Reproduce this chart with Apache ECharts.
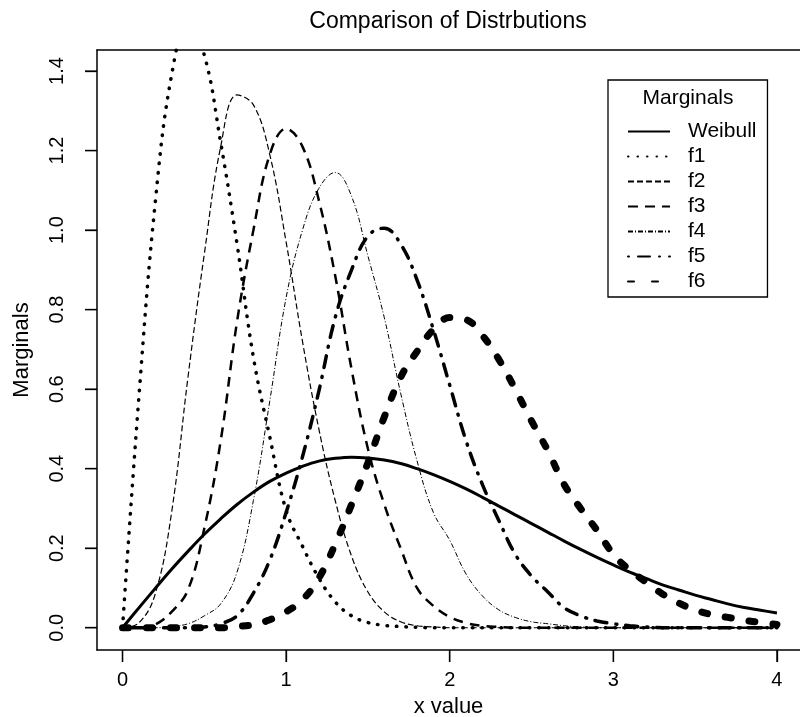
<!DOCTYPE html>
<html>
<head>
<meta charset="utf-8">
<script src="https://cdn.jsdelivr.net/npm/echarts@6/dist/echarts.min.js"></script>
<style>
    html, body { margin: 0; padding: 0; background: #fff; }
    #chart { width: 800px; height: 717px; }
</style>
</head>
<body>
<div id="chart"></div>
<script>
    // x grid
    var xs = [0, 0.1, 0.2, 0.3, 0.4, 0.5, 0.6, 0.7, 0.8, 0.9,
        1.0, 1.1, 1.2, 1.3, 1.4, 1.5, 1.6, 1.7, 1.8, 1.9,
        2.0, 2.1, 2.2, 2.3, 2.4, 2.5, 2.6, 2.7, 2.8, 2.9,
        3.0, 3.1, 3.2, 3.3, 3.4, 3.5, 3.6, 3.7, 3.8, 3.9, 4.0]

    var weibull = [0, 0.050, 0.099, 0.147, 0.192, 0.235, 0.274, 0.310, 0.341, 0.368,
        0.389, 0.406, 0.419, 0.426, 0.429, 0.427, 0.422, 0.413, 0.400, 0.385,
        0.368, 0.349, 0.328, 0.306, 0.284, 0.262, 0.240, 0.218, 0.197, 0.177,
        0.158, 0.140, 0.124, 0.108, 0.095, 0.082, 0.071, 0.060, 0.051, 0.044, 0.037]
    var f1 = [0, 0.58, 1.07, 1.39, 1.52, 1.44, 1.22, 0.965, 0.68, 0.48,
        0.295, 0.205, 0.125, 0.065, 0.03, 0.013, 0.006, 0.003, 0.001, 0,
        0, 0, 0, 0, 0, 0, 0, 0, 0, 0,
        0, 0, 0, 0, 0, 0, 0, 0, 0, 0, 0]
    var f2 = [0, 0.012, 0.085, 0.29, 0.63, 0.94, 1.21, 1.34, 1.315, 1.19,
        0.97, 0.72, 0.50, 0.32, 0.18, 0.09, 0.04, 0.015, 0.005, 0.002,
        0, 0, 0, 0, 0, 0, 0, 0, 0, 0,
        0, 0, 0, 0, 0, 0, 0, 0, 0, 0, 0]
    var f3 = [0, 0, 0.008, 0.04, 0.095, 0.25, 0.47, 0.77, 1.0, 1.19,
        1.255, 1.21, 1.075, 0.885, 0.65, 0.45, 0.31, 0.20, 0.10, 0.055,
        0.027, 0.012, 0.005, 0.002, 0, 0, 0, 0, 0, 0,
        0, 0, 0, 0, 0, 0, 0, 0, 0, 0, 0]
    var f4 = [0, 0, 0, 0.003, 0.01, 0.03, 0.06, 0.14, 0.32, 0.57,
        0.83, 1.0, 1.105, 1.145, 1.085, 0.935, 0.78, 0.59, 0.42, 0.29,
        0.22, 0.135, 0.08, 0.045, 0.026, 0.015, 0.01, 0.005, 0.002, 0,
        0, 0, 0, 0, 0, 0, 0, 0, 0, 0, 0]
    var f5 = [0, 0, 0, 0, 0, 0.002, 0.01, 0.03, 0.087, 0.17,
        0.29, 0.43, 0.595, 0.78, 0.90, 0.985, 1.005, 0.965, 0.875, 0.75,
        0.61, 0.47, 0.36, 0.27, 0.185, 0.13, 0.09, 0.05, 0.03, 0.017,
        0.01, 0.005, 0.002, 0, 0, 0, 0, 0, 0, 0, 0]
    var f6 = [0, 0, 0, 0, 0, 0, 0, 0.003, 0.008, 0.02,
        0.04, 0.07, 0.125, 0.21, 0.31, 0.415, 0.53, 0.63, 0.695, 0.75,
        0.78, 0.775, 0.735, 0.675, 0.60, 0.52, 0.445, 0.36, 0.30, 0.245,
        0.185, 0.145, 0.115, 0.085, 0.062, 0.045, 0.033, 0.026, 0.019, 0.013, 0.008]

    var xTicks = [0, 1, 2, 3, 4]
    var yTicks = [0, 0.2, 0.4, 0.6, 0.8, 1.0, 1.2, 1.4]
    var names = ['Weibull', 'f1', 'f2', 'f3', 'f4', 'f5', 'f6']

    var font = 'Liberation Sans, Arial, sans-serif'
    var xMin = -0.156, xMax = 4.141
    var yMin = -0.056, yMax = 1.453

    function pairs(vals) {
        return xs.map(function (x, i) { return [x, vals[i]] })
    }

    // line looks per curve, R style lty/lwd
    var looks = [
        { width: 3, type: 'solid', cap: 'butt' },
        { width: 3.5, type: [0.5, 9], cap: 'round' },
        { width: 1.2, type: [6, 3], cap: 'butt' },
        { width: 2.5, type: [10, 7], cap: 'butt' },
        { width: 1, type: [5, 2, 1, 2], cap: 'butt' },
        { width: 3.5, type: [1, 9, 12, 9], cap: 'round' },
        { width: 7, type: [6, 18], cap: 'round' }
    ]
    var allData = [weibull, f1, f2, f3, f4, f5, f6]

    // outward tick marks (R style), placed through the axes
    var tickData = xTicks.map(function (v) { return [v, yMin, 0] })
        .concat(yTicks.map(function (v) { return [xMin, v, 1] }))

    function renderTick(params, api) {
        var p = api.coord([api.value(0), api.value(1)])
        var horizontal = api.value(2) === 1
        return {
            type: 'line',
            shape: {
                x1: p[0], y1: p[1],
                x2: horizontal ? p[0] - 12 : p[0],
                y2: horizontal ? p[1] : p[1] + 12
            },
            style: { stroke: '#000', lineWidth: 1.3 }
        }
    }

    var lineSeries = names.map(function (n, i) {
        return {
            name: n,
            type: 'line',
            xAxisIndex: 0,
            data: pairs(allData[i]),
            smooth: 0.4,
            symbol: 'none',
            clip: true,
            color: '#000',
            lineStyle: { color: '#000', width: looks[i].width, type: looks[i].type, cap: looks[i].cap }
        }
    })

    var chart = echarts.init(document.getElementById('chart'))
    chart.setOption({
        backgroundColor: '#fff',
        animation: false,
        title: {
            text: 'Comparison of Distrbutions',
            left: 448,
            top: 10,
            padding: 0,
            textAlign: 'center',
            textStyle: { fontFamily: font, fontSize: 23, fontWeight: 'normal', color: '#000' }
        },
        grid: {
            left: 97, top: 50, right: 0, bottom: 67,
            outerBoundsMode: 'none'
        },
        legend: {
            data: names,
            orient: 'vertical',
            left: 608,
            top: 80,
            padding: [41, 11, 5, 19],
            itemWidth: 42,
            itemHeight: 14,
            itemGap: 4,
            borderColor: '#000',
            borderWidth: 1.3,
            backgroundColor: '#fff',
            itemStyle: { color: 'transparent', borderWidth: 0, opacity: 0 },
            textStyle: { fontFamily: font, fontSize: 21, color: '#000', lineHeight: 21, padding: [0, 0, 0, 13] }
        },
        graphic: [{
            type: 'text',
            x: 688, y: 98,
            z: 100,
            style: { text: 'Marginals', fontFamily: font, fontSize: 21, fill: '#000', align: 'center', verticalAlign: 'middle' }
        }],
        xAxis: [{
            type: 'value',
            min: xMin,
            max: xMax,
            name: 'x value',
            nameLocation: 'middle',
            nameGap: 46,
            nameTextStyle: { fontFamily: font, fontSize: 22, color: '#000' },
            splitLine: { show: false },
            axisLine: { show: true, onZero: false, lineStyle: { color: '#000', width: 1.5 } },
            axisTick: { show: true, inside: false, length: 12, customValues: xTicks, lineStyle: { color: '#000', width: 1.3 } },
            axisLabel: { customValues: xTicks, margin: 20, fontFamily: font, fontSize: 20, color: '#000' }
        }, {
            // top side of the box
            type: 'value',
            position: 'top',
            min: xMin,
            max: xMax,
            splitLine: { show: false },
            axisLine: { show: true, onZero: false, lineStyle: { color: '#000', width: 1.5 } },
            axisTick: { show: false },
            axisLabel: { show: false }
        }],
        yAxis: {
            type: 'value',
            min: yMin,
            max: yMax,
            name: 'Marginals',
            nameLocation: 'middle',
            nameGap: 64,
            nameTextStyle: { fontFamily: font, fontSize: 22, color: '#000' },
            splitLine: { show: false },
            axisLine: { show: true, onZero: false, lineStyle: { color: '#000', width: 1.5 } },
            axisTick: { show: true, inside: false, length: 12, customValues: yTicks, lineStyle: { color: '#000', width: 1.3 } },
            axisLabel: {
                customValues: yTicks, rotate: 90, margin: 30,
                fontFamily: font, fontSize: 20, color: '#000',
                formatter: function (v) { return v.toFixed(1) }
            }
        },
        series: lineSeries.concat([{
            type: 'custom',
            xAxisIndex: 0,
            data: tickData,
            renderItem: renderTick,
            clip: false,
            silent: true,
            z: 5
        }])
    })
</script>
</body>
</html>
